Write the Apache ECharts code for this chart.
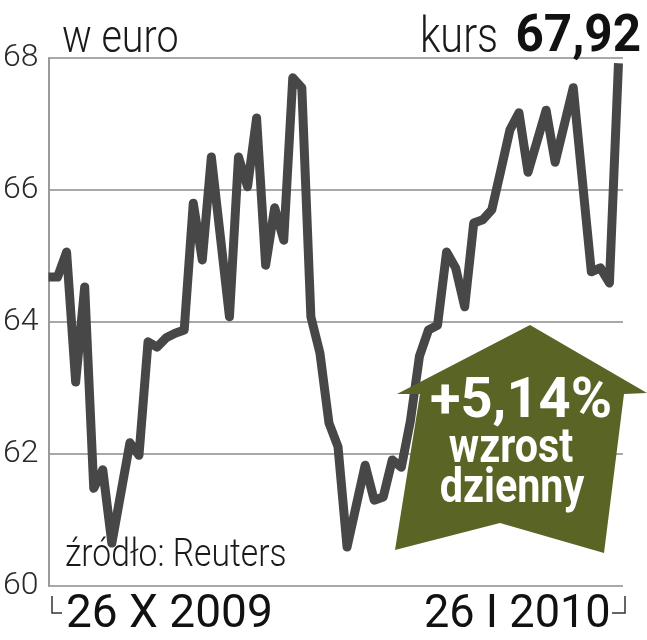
<!DOCTYPE html>
<html><head><meta charset="utf-8">
<script src="https://cdn.jsdelivr.net/npm/echarts@6/dist/echarts.min.js"></script>
<style>html,body{margin:0;padding:0;background:#fff}#c{width:647px;height:640px}</style>
</head><body><div id="c"></div>
<script>
// trading-day index (from 26 X 2009) and closing price in euro
const days = [0,1,2,3,4,5,6,7,9,10,11,12,13,14,15,16,17,18,20,21,22,23,24,25,26,27,28,29,30,31,32,33,35,36,37,38,39,40,41,42,43,44,45,46,47,48,49,50,51,52,53,55,56,58,60,61,62,63];
const prices = [64.68,64.68,65.06,63.09,64.53,61.48,61.76,60.65,62.17,61.98,63.70,63.62,63.76,63.83,63.88,65.80,64.94,66.50,64.08,66.50,66.05,67.09,64.86,65.73,65.24,67.70,67.55,64.08,63.53,62.47,62.11,60.59,61.83,61.30,61.35,61.91,61.80,62.50,63.48,63.88,63.95,65.06,64.82,64.23,65.50,65.55,65.70,66.30,66.91,67.17,66.27,67.21,66.42,67.55,64.76,64.82,64.59,67.92];
const yTicks = [60,62,64,66,68];
const unitLabel = 'w euro';
const kursLabel = 'kurs';
const kursValue = '67,92';
const sourceLabel = 'źródło: Reuters';
const startLabel = '26 X 2009';
const endLabel = '26 I 2010';
const changeLines = ['+5,14%', 'wzrost', 'dzienny'];

const chart = echarts.init(document.getElementById('c'), null, {renderer: 'canvas'});
const FONT = 'Roboto, "Liberation Sans", sans-serif';
const data = days.map((d, i) => [d, prices[i]]);

function txt(text, x, y, font, opts) {
  opts = opts || {};
  return {
    type: 'text', x: x, y: y, scaleX: opts.sx || 1, z: opts.z || 50,
    style: {text: text, x: 0, y: 0, font: font, fill: opts.fill || '#1a1a1a',
      align: opts.align || 'left', verticalAlign: opts.va || 'top'}
  };
}

chart.setOption({
  animation: false,
  backgroundColor: '#ffffff',
  grid: {left: 48, top: 58, right: 24, bottom: 54, containLabel: false},
  xAxis: {
    type: 'value', min: 0, max: 63.5,
    axisLine: {show: false}, axisTick: {show: false}, axisLabel: {show: false}, splitLine: {show: false}
  },
  yAxis: {
    type: 'value', min: yTicks[0], max: yTicks[yTicks.length - 1], interval: 2,
    axisLine: {show: true, lineStyle: {color: '#9a9a9a', width: 2}},
    axisTick: {show: false},
    axisLabel: {color: '#2a2a2a', fontSize: 32, fontFamily: FONT, fontWeight: 300, margin: 10,
      formatter: v => yTicks.includes(v) ? String(v) : ''},
    splitLine: {show: true, lineStyle: {color: '#a8a8a8', width: 2}}
  },
  series: [{
    type: 'line', data: data, showSymbol: false, symbol: 'none',
    lineStyle: {color: '#474747', width: 9, join: 'round', cap: 'butt'},
    z: 3
  }],
  graphic: [
    txt(unitLabel, 62, 17, '300 47px ' + FONT, {sx: 0.84}),
    txt(kursLabel, 420, 14, '300 50px ' + FONT, {sx: 0.83}),
    txt(kursValue, 641, 12, 'bold 52px ' + FONT, {sx: 0.95, align: 'right', fill: '#111'}),
    txt(sourceLabel, 65, 537, '300 38px ' + FONT, {sx: 0.885}),
    txt(startLabel, 66, 592, '400 46px ' + FONT, {fill: '#111'}),
    txt(endLabel, 424, 592, '400 46px ' + FONT, {fill: '#111', sx: 0.98}),
    {type: 'polyline', z: 50, shape: {points: [[52, 596], [52, 613], [62, 613]]}, style: {stroke: '#333', lineWidth: 1.5, fill: null}},
    {type: 'polyline', z: 50, shape: {points: [[612, 613], [625, 613], [625, 596]]}, style: {stroke: '#333', lineWidth: 1.5, fill: null}},
    {type: 'polygon', z: 60, shape: {points: [[530, 325], [647, 393], [624, 394], [604, 553], [500, 523], [395, 550], [420, 394], [397, 394]]},
      style: {fill: '#5a6424'}},
    txt(changeLines[0], 521, 403, 'bold 56px ' + FONT, {align: 'center', va: 'middle', fill: '#fff', z: 70}),
    txt(changeLines[1], 511, 450, 'bold 48px ' + FONT, {align: 'center', va: 'middle', fill: '#fff', z: 70, sx: 0.86}),
    txt(changeLines[2], 512, 490, 'bold 48px ' + FONT, {align: 'center', va: 'middle', fill: '#fff', z: 70, sx: 0.86})
  ]
});
</script>
</body></html>
